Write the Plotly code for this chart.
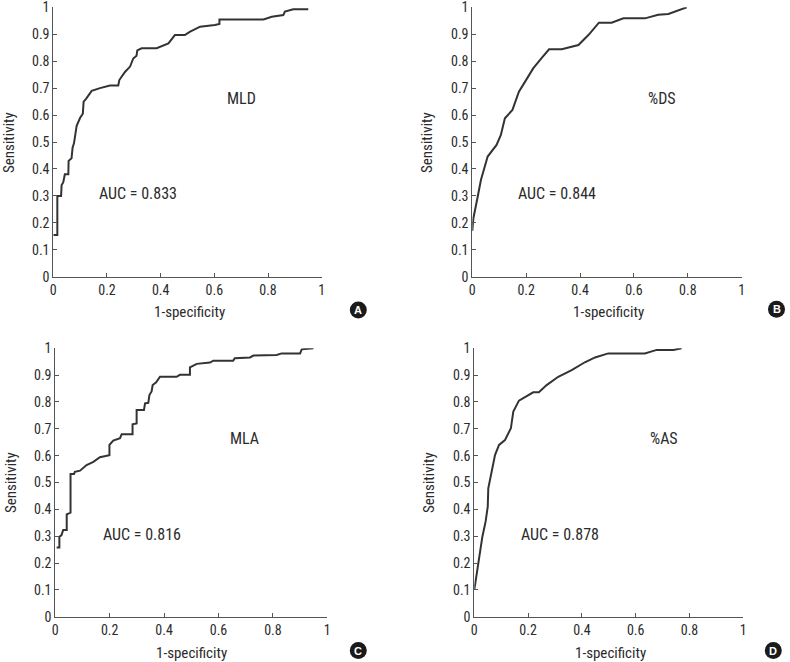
import plotly.graph_objects as go

W, H = 790, 662

# ---------------- data ----------------
mld_fpr = [0, 0.015, 0.015, 0.029, 0.031, 0.037, 0.043, 0.056, 0.057, 0.068, 0.072, 0.077, 0.087, 0.1, 0.11, 0.113,
           0.122, 0.143, 0.174, 0.211, 0.242, 0.246, 0.267, 0.286, 0.298, 0.31, 0.313, 0.329, 0.385, 0.429, 0.453,
           0.49, 0.51, 0.547, 0.602, 0.619, 0.619, 0.783, 0.814, 0.857, 0.863, 0.894, 0.95]
mld_tpr = [0.155, 0.155, 0.30, 0.30, 0.34, 0.35, 0.38, 0.38, 0.43, 0.44, 0.48, 0.495, 0.56, 0.59, 0.605, 0.65,
           0.66, 0.69, 0.70, 0.71, 0.71, 0.73, 0.76, 0.78, 0.81, 0.82, 0.84, 0.848, 0.848, 0.866, 0.897,
           0.897, 0.91, 0.928, 0.934, 0.938, 0.955, 0.955, 0.965, 0.971, 0.984, 0.993, 0.993]

ds_fpr = [0, 0.004, 0.02, 0.032, 0.057, 0.09, 0.106, 0.121, 0.149, 0.173, 0.196, 0.226, 0.257, 0.285, 0.332,
          0.394, 0.431, 0.47, 0.517, 0.561, 0.641, 0.69, 0.728, 0.765, 0.796]
ds_tpr = [0.17, 0.217, 0.297, 0.359, 0.446, 0.489, 0.526, 0.588, 0.619, 0.687, 0.724, 0.773, 0.811, 0.844, 0.844,
          0.86, 0.897, 0.943, 0.943, 0.959, 0.959, 0.972, 0.975, 0.988, 1.0]

mla_fpr = [0.005, 0.015, 0.015, 0.023, 0.029, 0.042, 0.042, 0.056, 0.056, 0.069, 0.072, 0.091, 0.115, 0.14,
           0.164, 0.199, 0.199, 0.213, 0.238, 0.244, 0.284, 0.284, 0.299, 0.299, 0.326, 0.33, 0.342, 0.346,
           0.354, 0.358, 0.37, 0.385, 0.446, 0.458, 0.495, 0.495, 0.52, 0.569, 0.581, 0.654, 0.66, 0.716,
           0.728, 0.814, 0.832, 0.9, 0.906, 0.949]
mla_tpr = [0.258, 0.258, 0.298, 0.304, 0.323, 0.323, 0.381, 0.388, 0.532, 0.532, 0.54, 0.544, 0.565, 0.577,
           0.594, 0.602, 0.64, 0.656, 0.665, 0.68, 0.68, 0.717, 0.72, 0.77, 0.77, 0.795, 0.797, 0.826,
           0.839, 0.863, 0.872, 0.894, 0.894, 0.901, 0.901, 0.929, 0.942, 0.947, 0.954, 0.954, 0.963, 0.966,
           0.973, 0.975, 0.981, 0.981, 0.996, 1.0]

as_fpr = [0, 0.009, 0.017, 0.03, 0.042, 0.05, 0.052, 0.067, 0.077, 0.092, 0.114, 0.136, 0.145, 0.166, 0.201,
          0.219, 0.24, 0.269, 0.312, 0.362, 0.411, 0.449, 0.498, 0.634, 0.678, 0.74, 0.771]
as_tpr = [0.1, 0.161, 0.205, 0.298, 0.354, 0.41, 0.478, 0.559, 0.602, 0.64, 0.658, 0.702, 0.764, 0.805, 0.826,
          0.836, 0.836, 0.863, 0.894, 0.919, 0.948, 0.966, 0.981, 0.981, 0.994, 0.994, 1.0]

panel_names = ["MLD", "%DS", "MLA", "%AS"]
auc_labels = ["AUC = 0.833", "AUC = 0.844", "AUC = 0.816", "AUC = 0.878"]
panel_letters = ["A", "B", "C", "D"]
x_ticks = [0, 0.2, 0.4, 0.6, 0.8, 1]
x_ticktext = ["0", "0.2", "0.4", "0.6", "0.8", "1"]
y_ticks = [0, 0.1, 0.2, 0.3, 0.4, 0.5, 0.6, 0.7, 0.8, 0.9, 1]
y_ticktext = ["0", "0.1", "0.2", "0.3", "0.4", "0.5", "0.6", "0.7", "0.8", "0.9", "1"]
x_title = "1-specificity"
y_title = "Sensitivity"

series = [(mld_fpr, mld_tpr), (ds_fpr, ds_tpr), (mla_fpr, mla_tpr), (as_fpr, as_tpr)]

# ---------------- layout geometry (pixels) ----------------
# plot boxes: (left, right, top, bottom)
boxes = [(53.3, 321.7, 7.3, 276.7),
         (472.3, 741.7, 7.3, 276.7),
         (55.3, 327.3, 348.3, 616.7),
         (474.3, 743.3, 348.3, 616.7)]
ytitle_pos = [(9, 143), (427, 143), (11, 483), (429, 483)]
xtitle_pos = [(189, 312), (608, 312), (191.5, 653), (610, 653)]
badge_pos = [(358.3, 310), (776.5, 309.3), (358.3, 650.5), (773.3, 650.5)]
name_pos = [(0.702, 0.662), (0.703, 0.662), (0.695, 0.665), (0.705, 0.665)]
auc_pos = [(0.317, 0.31), (0.316, 0.31), (0.318, 0.308), (0.319, 0.308)]

FONT = "Liberation Sans Narrow, Roboto Condensed, Arial Narrow, Liberation Sans, sans-serif"
TXT = "#2b2b2b"

def px(x):
    return x / W

def py(y):
    return 1 - y / H

fig = go.Figure()
annotations = []
shapes = []
C = dict(xanchor="center", yanchor="middle", showarrow=False)

for i, ((fx, ty), box) in enumerate(zip(series, boxes)):
    l, r, t, b = box
    xa = "xaxis" if i == 0 else f"xaxis{i+1}"
    ya = "yaxis" if i == 0 else f"yaxis{i+1}"
    xr = "x" if i == 0 else f"x{i+1}"
    yr = "y" if i == 0 else f"y{i+1}"
    fig.add_trace(go.Scatter(x=fx, y=ty, mode="lines", xaxis=xr, yaxis=yr,
                             line=dict(color="#333333", width=2), showlegend=False,
                             hoverinfo="skip", cliponaxis=False))
    common = dict(range=[0, 1], showgrid=False, zeroline=False, showline=True, automargin=False,
                  linecolor="#555555", linewidth=1, ticks="inside", ticklen=4,
                  ticklabeloverflow="allow",
                  tickcolor="#555555", tickfont=dict(family=FONT, size=14, color=TXT))
    fig.layout[xa] = dict(domain=[px(l), px(r)], anchor=yr, tickvals=x_ticks,
                          ticktext=x_ticktext, **common)
    fig.layout[ya] = dict(domain=[py(b), py(t)], anchor=xr, tickvals=y_ticks,
                          ticktext=y_ticktext, **common)

    annotations.append(dict(x=name_pos[i][0], y=name_pos[i][1], xref=xr, yref=yr,
                            text=panel_names[i], font=dict(family=FONT, size=16, color=TXT), **C))
    annotations.append(dict(x=auc_pos[i][0], y=auc_pos[i][1], xref=xr, yref=yr,
                            text=auc_labels[i], font=dict(family=FONT, size=16, color=TXT), **C))
    annotations.append(dict(x=px(xtitle_pos[i][0]), y=py(xtitle_pos[i][1]), xref="paper",
                            yref="paper", text=x_title,
                            font=dict(family=FONT, size=15, color=TXT), **C))
    annotations.append(dict(x=px(ytitle_pos[i][0]), y=py(ytitle_pos[i][1]), xref="paper",
                            yref="paper", text=y_title, textangle=-90,
                            font=dict(family=FONT, size=15, color=TXT), **C))
    cx, cy = badge_pos[i]
    rad = 8.5
    shapes.append(dict(type="circle", xref="paper", yref="paper",
                       x0=px(cx - rad), x1=px(cx + rad), y0=py(cy + rad), y1=py(cy - rad),
                       fillcolor="#1a1a1a", line=dict(width=0)))
    annotations.append(dict(x=px(cx), y=py(cy), xref="paper", yref="paper",
                            text=f"<b>{panel_letters[i]}</b>",
                            font=dict(family="Liberation Sans, Arial, sans-serif", size=11,
                                      color="white"), **C))

fig.update_layout(template="none", width=W, height=H, margin=dict(l=0, r=0, t=0, b=0),
                  paper_bgcolor="white", plot_bgcolor="white",
                  annotations=annotations, shapes=shapes)

fig.write_html("out.html", config={"displayModeBar": False},
               post_script="document.body.style.margin='0';document.body.style.padding='0';"
                           "document.body.style.overflow='hidden';")
